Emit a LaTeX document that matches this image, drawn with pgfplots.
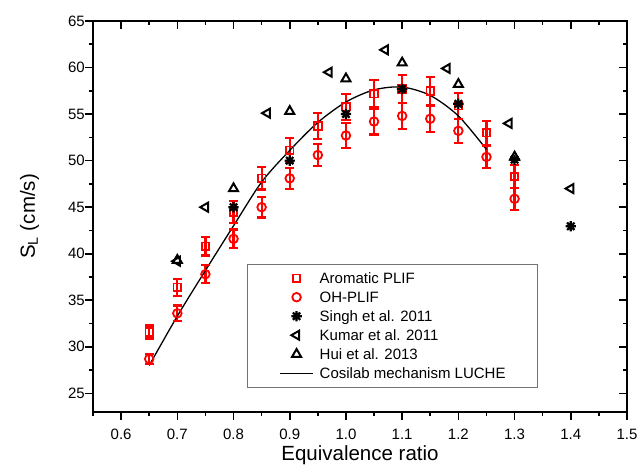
\documentclass[border=0pt]{standalone}
\usepackage{fontspec}
\setmainfont{Liberation Sans}
\usepackage{pgfplots}
\usepackage{pgfplotstable}
\pgfplotsset{compat=1.18}

\pgfdeclareplotmark{star8}{%
  \pgfpathmoveto{\pgfqpoint{-\pgfplotmarksize}{0pt}}\pgfpathlineto{\pgfqpoint{\pgfplotmarksize}{0pt}}%
  \pgfpathmoveto{\pgfqpoint{0pt}{-\pgfplotmarksize}}\pgfpathlineto{\pgfqpoint{0pt}{\pgfplotmarksize}}%
  \pgfpathmoveto{\pgfqpoint{-0.7071\pgfplotmarksize}{-0.7071\pgfplotmarksize}}\pgfpathlineto{\pgfqpoint{0.7071\pgfplotmarksize}{0.7071\pgfplotmarksize}}%
  \pgfpathmoveto{\pgfqpoint{-0.7071\pgfplotmarksize}{0.7071\pgfplotmarksize}}\pgfpathlineto{\pgfqpoint{0.7071\pgfplotmarksize}{-0.7071\pgfplotmarksize}}%
  \pgfusepathqstroke}

\pgfplotsset{
  legimg/.style={legend image code/.code={\draw[mark repeat=2,mark phase=2,##1] plot coordinates {(0pt,0pt)(16.5pt,0pt)(33pt,0pt)};}},
  redbars/.style={error bars/.cd, y dir=both, y explicit,
    error bar style={draw=red, line width=2.2pt},
    error mark=none},
  caps/.style={forget plot, only marks, mark=-, mark size=4.6pt, mark options={draw=red, line width=2.2pt}},
}

\pgfplotstableread{
x y e
0.65 31.6 0.7
0.70 36.4 0.9
0.75 40.8 1.0
0.80 44.5 1.2
0.85 48.1 1.2
0.90 51.1 1.3
0.95 53.7 1.4
1.00 55.8 1.4
1.05 57.2 1.5
1.10 57.7 1.5
1.15 57.5 1.5
1.20 55.9 1.4
1.25 53.0 1.3
1.30 48.3 1.25
}\aromatic

\pgfplotstableread{
x y e
0.65 28.7 0.55
0.70 33.6 0.85
0.75 37.8 0.95
0.80 41.6 1.0
0.85 45.0 1.1
0.90 48.1 1.15
0.95 50.6 1.2
1.00 52.7 1.3
1.05 54.2 1.4
1.10 54.8 1.4
1.15 54.5 1.4
1.20 53.2 1.3
1.25 50.4 1.15
1.30 45.9 1.2
}\ohplif

\begin{document}
\begin{tikzpicture}
\begin{axis}[
  name=ax,
  width=534pt, height=391pt, scale only axis,
  xmin=0.55, xmax=1.5, ymin=23, ymax=65,
  xtick={0.6,0.7,0.8,0.9,1.0,1.1,1.2,1.3,1.4,1.5},
  minor xtick={0.55,0.65,0.75,0.85,0.95,1.05,1.15,1.25,1.35,1.45},
  ytick={25,30,35,40,45,50,55,60,65},
  minor ytick={27.5,32.5,37.5,42.5,47.5,52.5,57.5,62.5},
  xtick pos=left, ytick pos=left, tick align=outside,
  major tick length=8pt, minor tick length=4pt,
  every tick/.style={line width=1.6pt, black},
  axis line style={line width=1.6pt},
  /pgf/number format/assume math mode=true,
  xticklabel style={font=\fontsize{15}{18}\selectfont, inner sep=0pt, yshift=-9pt, /pgf/number format/.cd, fixed, fixed zerofill, precision=1},
  yticklabel style={font=\fontsize{15}{18}\selectfont, inner sep=0pt},
  every axis x label/.style={at={(axis description cs:0.5,0)}, anchor=north, yshift=-33pt, inner sep=0pt, font=\fontsize{20.5}{24}\selectfont},
  every axis y label/.style={at={(axis description cs:-0.119,0.5)}, rotate=90, anchor=center, inner sep=0pt, font=\fontsize{20.5}{24}\selectfont},
  xlabel={Equivalence ratio},
  ylabel={S\textsubscript{L} (cm/s)},
  legend style={at={(0.2884,0.3785)}, anchor=north west, draw=black!55, line width=0.8pt,
    inner xsep=32pt, inner ysep=5.8pt, row sep=3pt,
    font=\fontsize{15}{18}\selectfont,
    nodes={inner sep=0pt, text height=13.5pt, text depth=2.5pt},
    /tikz/column 1/.style={column sep=6pt}},
  legend cell align=left,
]
\addplot[legimg, only marks, mark=square, mark size=3.8pt, mark options={red, line width=1.8pt, fill=white}, redbars]
  table[x=x, y=y, y error=e] {\aromatic};
\addlegendentry{Aromatic PLIF}
\addplot[legimg, only marks, mark=o, mark size=4.3pt, mark options={red, line width=1.8pt, fill=white}, redbars]
  table[x=x, y=y, y error=e] {\ohplif};
\addlegendentry{OH-PLIF}
\addplot[caps] table[x=x, y expr=\thisrow{y}+\thisrow{e}] {\aromatic};
\addplot[caps] table[x=x, y expr=\thisrow{y}-\thisrow{e}] {\aromatic};
\addplot[caps] table[x=x, y expr=\thisrow{y}+\thisrow{e}] {\ohplif};
\addplot[caps] table[x=x, y expr=\thisrow{y}-\thisrow{e}] {\ohplif};
\addplot[legimg, only marks, mark=star8, mark size=5.2pt, mark options={black, line width=2.2pt}]
  coordinates {(0.8,45.0) (0.9,50.0) (1.0,55.0) (1.1,57.7) (1.2,56.1) (1.3,50.1) (1.4,42.95)};
\addlegendentry{Singh et al. 2011}
\addplot[legimg, only marks, mark=triangle, mark size=5.2pt, mark options={black, line width=2pt, rotate=90}]
  coordinates {(0.70,39.2) (0.75,45.0) (0.86,55.1) (0.97,59.5) (1.07,61.9) (1.18,59.9) (1.29,54.0) (1.40,47.0)};
\addlegendentry{Kumar et al. 2011}
\addplot[legimg, only marks, mark=triangle, mark size=5.2pt, mark options={black, line width=2pt}]
  coordinates {(0.7,39.3) (0.8,47.0) (0.9,55.3) (1.0,58.8) (1.1,60.5) (1.2,58.2) (1.3,50.4)};
\addlegendentry{Hui et al. 2013}
\addplot[legimg, black, line width=1.3pt, smooth, tension=0.5, no marks]
  coordinates {(0.65,28.0) (0.70,33.3) (0.75,38.2) (0.80,43.0) (0.85,47.7) (0.90,51.1) (0.95,54.1) (1.00,56.3) (1.05,57.6) (1.10,57.9) (1.15,57.0) (1.20,54.8) (1.25,51.2)};
\addlegendentry{Cosilab mechanism LUCHE}
\end{axis}
\begin{axis}[
  at={(ax.south west)}, anchor=south west,
  width=534pt, height=391pt, scale only axis,
  xmin=0.55, xmax=1.5, ymin=23, ymax=65,
  xtick={0.6,0.7,0.8,0.9,1.0,1.1,1.2,1.3,1.4,1.5},
  minor xtick={0.55,0.65,0.75,0.85,0.95,1.05,1.15,1.25,1.35,1.45},
  ytick={25,30,35,40,45,50,55,60,65},
  minor ytick={27.5,32.5,37.5,42.5,47.5,52.5,57.5,62.5},
  xtick pos=right, ytick pos=right, tick align=inside,
  major tick length=8pt, minor tick length=4pt,
  every tick/.style={line width=1.6pt, black},
  axis line style={line width=1.6pt},
  xticklabels={}, yticklabels={},
]
\end{axis}
\pgfresetboundingbox
\path ([shift={(-93pt,-62pt)}]ax.south west) rectangle ([shift={(14pt,21pt)}]ax.north east);
\end{tikzpicture}
\end{document}
